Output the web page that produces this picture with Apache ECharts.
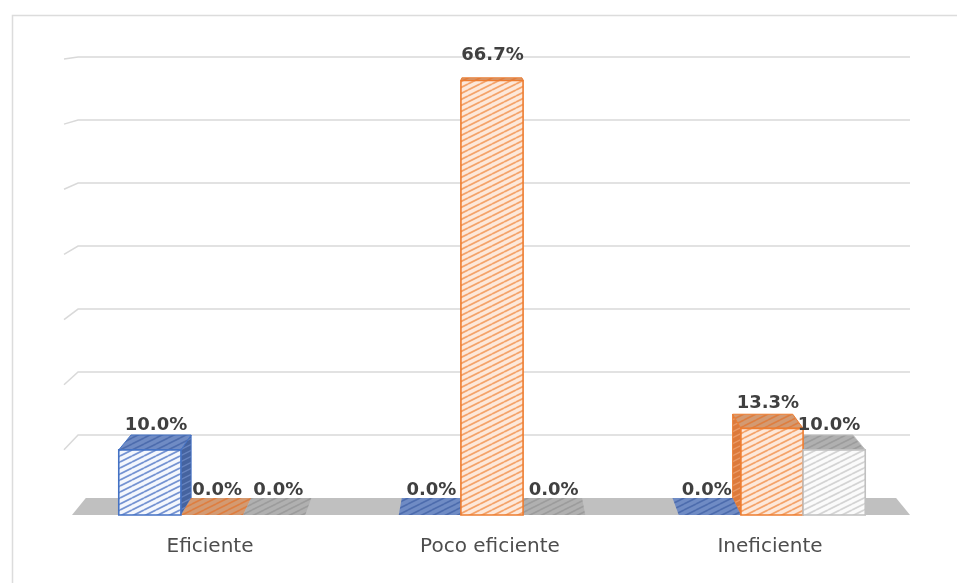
<!DOCTYPE html>
<html>
<head>
<meta charset="utf-8">
<script src="https://cdn.jsdelivr.net/npm/echarts@6/dist/echarts.min.js"></script>
<style>
html, body {margin: 0; padding: 0; background: #fff;}
#main {width: 957px; height: 583px;}
</style>
</head>
<body>
<div id="main"></div>
<script>
// datos del grafico (porcentajes)
var categorias = ['Eficiente', 'Poco eficiente', 'Ineficiente'];
var serieAzul = [10.0, 0.0, 0.0];
var serieNaranja = [0.0, 66.7, 13.3];
var serieGris = [0.0, 0.0, 10.0];
var ticksY = [10, 20, 30, 40, 50, 60, 70];

// factor de profundidad (pared del fondo)
var FONDO = 0.967;

function atras(p, cs) {
    var vx = cs.x + cs.width / 2;
    return [vx + (p[0] - vx) * FONDO, p[1] * FONDO];
}

// trama diagonal como patron
function trama(fondo, linea, grosor) {
    var W = 12, H = 6;
    var c = document.createElement('canvas');
    c.width = W; c.height = H;
    var g = c.getContext('2d');
    g.fillStyle = fondo;
    g.fillRect(0, 0, W, H);
    g.strokeStyle = linea;
    g.lineWidth = grosor;
    [-H, 0, H].forEach(function (o) {
        g.beginPath();
        g.moveTo(0, H + o);
        g.lineTo(W, o);
        g.stroke();
    });
    return {image: c, repeat: 'repeat'};
}

var estilos = [
    {
        frente: trama('#f4f7fd', '#7593d2', 1.8),
        tapa: trama('#6f8bc4', '#4d6cad', 1.6),
        lado: trama('#45639f', '#6683bd', 1.4),
        borde: '#4472c4'
    },
    {
        frente: trama('#fde8da', '#f4a36a', 1.8),
        tapa: trama('#d39a72', '#de7e40', 1.6),
        lado: trama('#dc7a3c', '#eb9a66', 1.4),
        borde: '#ed7d31'
    },
    {
        frente: trama('#fbfbfb', '#d4d4d4', 1.8),
        tapa: trama('#b0b0b0', '#9c9c9c', 1.6),
        lado: trama('#b0b0b0', '#c8c8c8', 1.4),
        borde: '#c0c0c0'
    }
];

function serieBarras(nombre, valores, idx) {
    var est = estilos[idx];
    return {
        name: nombre,
        type: 'custom',
        z: 3,
        data: valores.map(function (v, i) { return [i, v]; }),
        encode: {x: 0, y: 1},
        renderItem: function (params, api) {
            var cs = params.coordSys;
            var cat = api.value(0), val = api.value(1);
            var centro = api.coord([cat, 0]);
            var base = centro[1];
            var w = api.size([1, 0])[0] * 0.222;
            var x0 = centro[0] + (idx - 1) * w - w / 2 + 2, x1 = x0 + w;
            var arriba = api.coord([cat, val])[1];
            var fl = [x0, arriba], fr = [x1, arriba], bl = [x0, base], br = [x1, base];
            var tl = atras(fl, cs), tr = atras(fr, cs), btl = atras(bl, cs), btr = atras(br, cs);
            var vx = cs.x + cs.width / 2;
            var hijos = [];
            if (val > 0) {
                if (x1 < vx) {
                    hijos.push({type: 'polygon', z2: 0, shape: {points: [fr, tr, btr, br]},
                        style: {fill: est.lado, stroke: est.borde, lineWidth: 1}});
                } else if (x0 > vx) {
                    hijos.push({type: 'polygon', z2: 0, shape: {points: [fl, tl, btl, bl]},
                        style: {fill: est.lado, stroke: est.borde, lineWidth: 1}});
                }
            }
            hijos.push({type: 'polygon', z2: 1, shape: {points: [fl, fr, tr, tl]},
                style: {fill: est.tapa, stroke: val > 0 ? est.borde : null, lineWidth: 1}});
            if (val > 0) {
                hijos.push({type: 'rect', z2: 2, shape: {x: x0, y: arriba, width: w, height: base - arriba},
                    style: {fill: est.frente, stroke: est.borde, lineWidth: 1.6}});
            }
            var dx = (tl[0] - fl[0]) / 2;
            hijos.push({type: 'text', z2: 5, x: (x0 + x1) / 2 + dx, y: arriba - 25,
                style: {text: val.toFixed(1) + '%', fill: '#404040', fontSize: 18, fontWeight: 'bold',
                    fontFamily: 'DejaVu Sans', align: 'center', verticalAlign: 'middle'}});
            return {type: 'group', children: hijos};
        }
    };
}

var chart = echarts.init(document.getElementById('main'));
var option = {
    animation: false,
    backgroundColor: '#ffffff',
    graphic: [{
        type: 'rect', left: 10, top: 13, silent: true,
        shape: {width: 960, height: 590},
        style: {fill: null, stroke: '#dcdcdc', lineWidth: 1.5}
    }],
    grid: {left: 70, right: 47, top: 59, bottom: 68},
    xAxis: {
        type: 'category',
        data: categorias,
        axisLine: {show: false},
        axisTick: {show: false},
        axisLabel: {fontSize: 20, color: '#4d4d4d', fontFamily: 'DejaVu Sans', margin: 22}
    },
    yAxis: {
        type: 'value', min: 0, max: 70, interval: 10,
        axisLabel: {show: false}, axisLine: {show: false}, axisTick: {show: false},
        splitLine: {show: false}
    },
    series: [
        {
            // lineas de la pared del fondo
            type: 'custom', z: 1, silent: true,
            data: ticksY.map(function (v) { return [0, v]; }),
            encode: {x: 0, y: 1},
            renderItem: function (params, api) {
                var cs = params.coordSys;
                var yf = api.coord([0, api.value(1)])[1];
                var frente = [cs.x - 6, yf];
                var izq = atras(frente, cs);
                var der = [cs.x + cs.width, izq[1]];
                return {type: 'polyline', shape: {points: [frente, izq, der]},
                    style: {stroke: '#d9d9d9', lineWidth: 1.5, fill: null}};
            }
        },
        {
            // piso
            type: 'custom', z: 2, silent: true,
            data: [[0, 0]],
            encode: {x: 0, y: 1},
            renderItem: function (params, api) {
                var cs = params.coordSys;
                var y0 = api.coord([0, 0])[1];
                var a = [cs.x + 2, y0], b = [cs.x + cs.width, y0];
                return {type: 'polygon', shape: {points: [a, b, atras(b, cs), atras(a, cs)]},
                    style: {fill: '#c0c0c0'}};
            }
        },
        serieBarras('Azul', serieAzul, 0),
        serieBarras('Naranja', serieNaranja, 1),
        serieBarras('Gris', serieGris, 2)
    ]
};
chart.setOption(option);
</script>
</body>
</html>
